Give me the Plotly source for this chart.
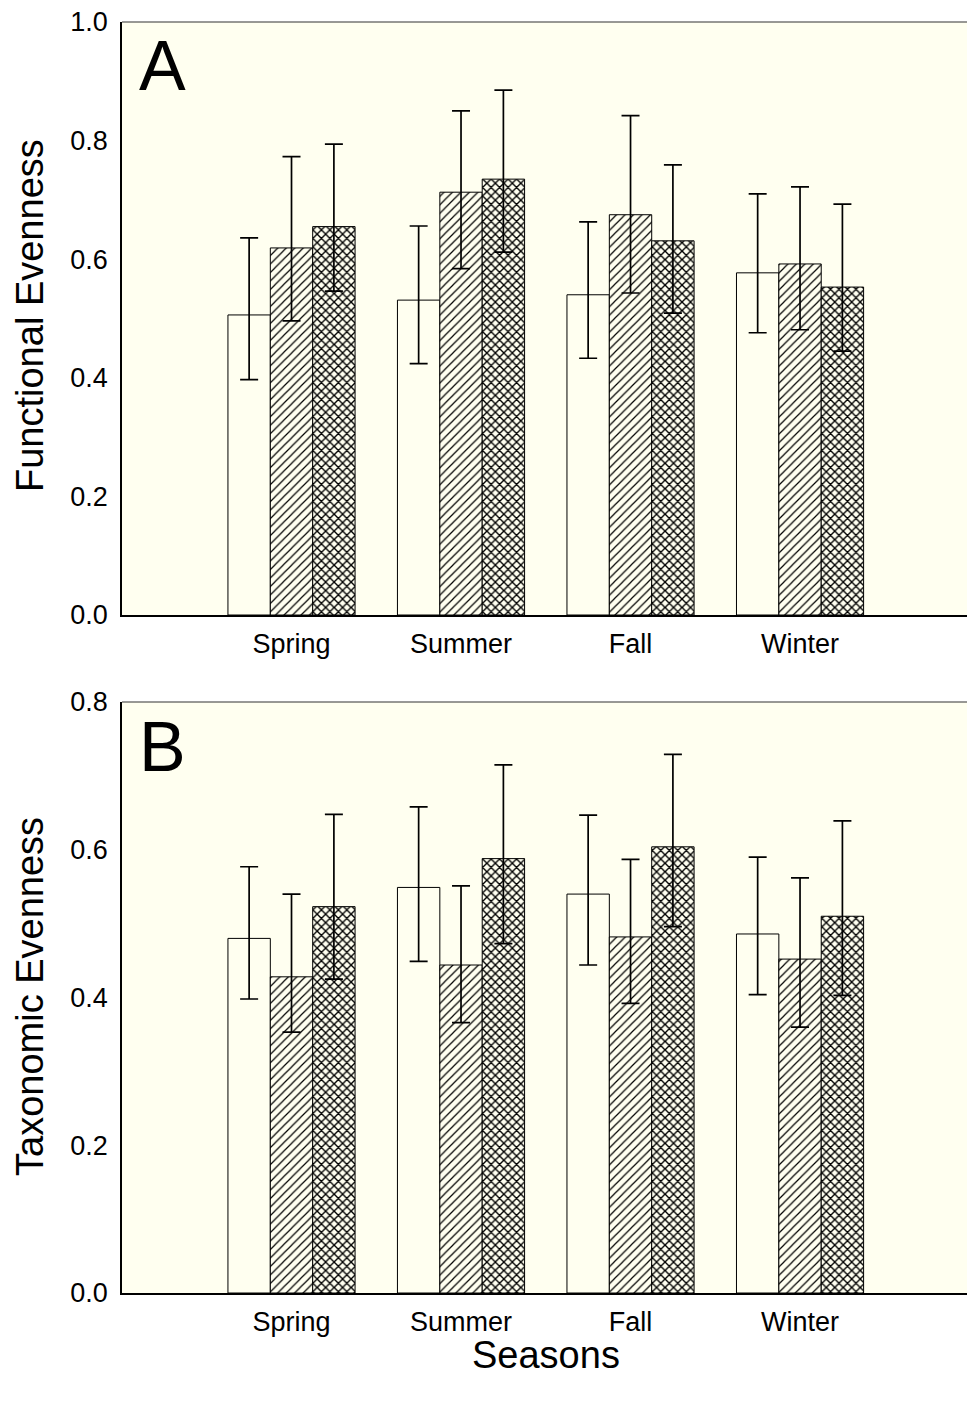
import plotly.graph_objects as go

seasons = ["Spring", "Summer", "Fall", "Winter"]

# Panel A: Functional evenness (bar means, upper and lower error bar ends)
fe_open = [0.506, 0.531, 0.540, 0.577]
fe_open_hi = [0.636, 0.656, 0.663, 0.710]
fe_open_lo = [0.397, 0.424, 0.433, 0.476]
fe_hatch = [0.619, 0.713, 0.675, 0.592]
fe_hatch_hi = [0.773, 0.850, 0.842, 0.722]
fe_hatch_lo = [0.496, 0.584, 0.543, 0.481]
fe_cross = [0.655, 0.735, 0.631, 0.553]
fe_cross_hi = [0.794, 0.885, 0.759, 0.693]
fe_cross_lo = [0.546, 0.612, 0.509, 0.445]

# Panel B: Taxonomic evenness
te_open = [0.480, 0.549, 0.540, 0.486]
te_open_hi = [0.577, 0.658, 0.647, 0.590]
te_open_lo = [0.398, 0.449, 0.444, 0.404]
te_hatch = [0.428, 0.444, 0.482, 0.452]
te_hatch_hi = [0.540, 0.551, 0.587, 0.562]
te_hatch_lo = [0.353, 0.366, 0.392, 0.360]
te_cross = [0.523, 0.588, 0.604, 0.510]
te_cross_hi = [0.648, 0.715, 0.729, 0.639]
te_cross_lo = [0.425, 0.473, 0.496, 0.403]

ytick_a = [0.0, 0.2, 0.4, 0.6, 0.8, 1.0]
ytick_b = [0.0, 0.2, 0.4, 0.6, 0.8]

BG = "#FFFFF0"
FONT = "Liberation Sans, Arial, sans-serif"

fig = go.Figure()


def add_bar(vals, hi, lo, shape, xa, ya, name):
    plus = [h - v for h, v in zip(hi, vals)]
    minus = [v - l for v, l in zip(vals, lo)]
    if shape == "x":
        pattern = dict(shape="x", fgcolor="black", bgcolor=BG, fgopacity=1,
                       size=6, solidity=0.4)
    elif shape == "/":
        pattern = dict(shape="/", fgcolor="black", bgcolor=BG, fgopacity=1,
                       size=6, solidity=0.2)
    else:
        pattern = dict(shape="")
    fig.add_trace(go.Bar(
        x=seasons, y=vals, name=name, xaxis=xa, yaxis=ya, showlegend=False,
        offsetgroup=name,
        marker=dict(color=BG, line=dict(color="black", width=1),
                    pattern=pattern),
        error_y=dict(type="data", symmetric=False, array=plus, arrayminus=minus,
                     color="black", thickness=1.7, width=9),
    ))


add_bar(fe_open, fe_open_hi, fe_open_lo, "", "x", "y", "open")
add_bar(fe_hatch, fe_hatch_hi, fe_hatch_lo, "/", "x", "y", "hatch")
add_bar(fe_cross, fe_cross_hi, fe_cross_lo, "x", "x", "y", "cross")
add_bar(te_open, te_open_hi, te_open_lo, "", "x2", "y2", "open")
add_bar(te_hatch, te_hatch_hi, te_hatch_lo, "/", "x2", "y2", "hatch")
add_bar(te_cross, te_cross_hi, te_cross_lo, "x", "x2", "y2", "cross")

H = 1402.0


def py(p):
    return 1 - p / H


xax = dict(range=[-1, 3.985], showline=True, linecolor="black", linewidth=2,
           ticks="", showgrid=False, zeroline=False, automargin=False,
           tickfont=dict(size=27, family=FONT, color="black"),
           ticklabelstandoff=4, fixedrange=True)
yax_common = dict(showline=True, linecolor="black", linewidth=1.5, ticks="",
                  showgrid=False, zeroline=False, tickformat=".1f",
                  automargin=False,
                  tickfont=dict(size=27, family=FONT, color="black"),
                  ticklabelstandoff=7)

fig.update_layout(
    width=967, height=1402,
    margin=dict(l=122, r=0, t=0, b=0, autoexpand=False),
    paper_bgcolor="white", plot_bgcolor=BG,
    barmode="group", bargap=0.25, bargroupgap=0,
    font=dict(family=FONT, color="black"),
    xaxis=dict(**xax, domain=[0, 1], anchor="y"),
    xaxis2=dict(**xax, domain=[0, 1], anchor="y2"),
    yaxis=dict(**yax_common, range=[0, 1.0], tickvals=ytick_a,
               domain=[py(615), py(22)], anchor="x"),
    yaxis2=dict(**yax_common, range=[0, 0.8], tickvals=ytick_b,
                domain=[py(1293), py(702)], anchor="x2"),
    shapes=[
        dict(type="line", xref="x domain", yref="y domain", x0=0, x1=1, y0=1, y1=1,
             line=dict(color="#333333", width=1.2)),
        dict(type="line", xref="x2 domain", yref="y2 domain", x0=0, x1=1, y0=1, y1=1,
             line=dict(color="#333333", width=1.2)),
    ],
    annotations=[
        dict(text="A", xref="paper", yref="paper", x=(137 - 122) / 845, y=py(66),
             xanchor="left", yanchor="middle", showarrow=False,
             font=dict(size=70, family=FONT)),
        dict(text="B", xref="paper", yref="paper", x=(137 - 122) / 845, y=py(747),
             xanchor="left", yanchor="middle", showarrow=False,
             font=dict(size=70, family=FONT)),
        dict(text="Functional Evenness", xref="paper", yref="paper",
             x=(30 - 122) / 845, y=py(316), textangle=-90,
             xanchor="center", yanchor="middle", showarrow=False,
             font=dict(size=38, family=FONT)),
        dict(text="Taxonomic Evenness", xref="paper", yref="paper",
             x=(30 - 122) / 845, y=py(997), textangle=-90,
             xanchor="center", yanchor="middle", showarrow=False,
             font=dict(size=38, family=FONT)),
        dict(text="Seasons", xref="paper", yref="paper",
             x=(546 - 122) / 845, y=py(1355),
             xanchor="center", yanchor="middle", showarrow=False,
             font=dict(size=38, family=FONT)),
    ],
)

fig.write_html("out.html")
